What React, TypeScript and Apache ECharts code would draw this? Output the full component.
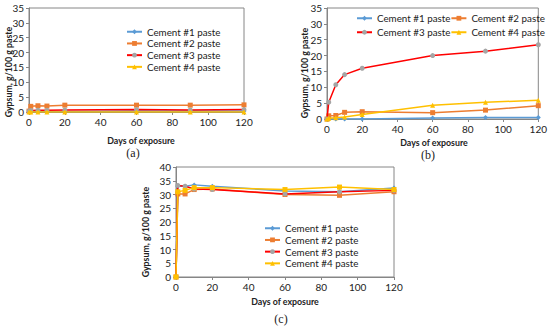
import React, { useEffect, useRef } from "react";
import * as echarts from "echarts";

const days = [0, 1, 5, 10, 20, 60, 90, 120];
const seriesNames = ["Cement #1 paste", "Cement #2 paste", "Cement #3 paste", "Cement #4 paste"];

// Panel (a)
const a1 = [0, 0.2, 0.2, 0.2, 0.2, 0.3, 0.3, 0.3];
const a2 = [0.3, 1.9, 2.1, 2.0, 2.3, 2.3, 2.3, 2.4];
const a3 = [0.3, 0.5, 0.6, 0.6, 0.7, 0.8, 0.7, 0.8];
const a4 = [0, 0, 0, 0, 0, 0, 0, 0];
// Panel (b)
const b1 = [0, 0, 0, 0, 0, 0.3, 0.5, 0.5];
const b2 = [0, 1.0, 1.1, 2.1, 2.3, 2.0, 2.8, 4.2];
const b3 = [0, 5.3, 10.8, 14.0, 16.0, 20.0, 21.4, 23.4];
const b4 = [0, 0.2, 0.4, 0.6, 1.4, 4.3, 5.3, 5.9];
// Panel (c)
const c1 = [0, 33.0, 33.0, 33.5, 33.0, 31.3, 31.0, 32.4];
const c2 = [0, 30.2, 30.2, 31.8, 32.0, 30.0, 29.7, 31.0];
const c3 = [0, 33.3, 33.0, 32.0, 31.8, 30.2, 31.0, 31.5];
const c4 = [0, 31.0, 31.5, 32.5, 32.5, 31.8, 32.7, 31.8];

const panelLabels = ["(a)", "(b)", "(c)"];
const xTitle = "Days of exposure";
const yTitle = "Gypsum, g/100 g paste";

const lineColors = ["#5B9BD5", "#ED7D31", "#FF0000", "#FFC000"];
const markerColors = ["#5B9BD5", "#ED7D31", "#A5A5A5", "#FFC000"];
const FONT = "Lato";

export default function App() {
  const ref = useRef<HTMLDivElement>(null);
  useEffect(() => {
    if (!ref.current) return;
    const chart = echarts.init(ref.current, null, { renderer: "svg" });
    const grids = [
      { left: 29, top: 8, width: 215, height: 104 },
      { left: 327, top: 8, width: 213, height: 111 },
      { left: 176, top: 167, width: 218, height: 110 },
    ];
    const yMax = [35, 35, 40];
    const data = [
      [a1, a2, a3, a4],
      [b1, b2, b3, b4],
      [c1, c2, c3, c4],
    ];
    const symbolsAB = ["diamond", "rect", "circle", "triangle"];
    const symbolsC = ["diamond", "rect", "circle", "rect"];
    const series: any[] = [];
    data.forEach((panel, pi) => {
      panel.forEach((vals, si) => {
        series.push({
          type: "line",
          name: seriesNames[si],
          xAxisIndex: pi,
          yAxisIndex: pi,
          data: days.map((d, i) => [d, vals[i]]),
          symbol: pi === 2 ? symbolsC[si] : symbolsAB[si],
          symbolSize: 5,
          showAllSymbol: true,
          lineStyle: { color: lineColors[si], width: 1.5 },
          itemStyle: { color: markerColors[si] },
          z: 2 + si,
        });
      });
    });
    const axisCommon = {
      axisLine: { show: true, onZero: false, lineStyle: { color: "#868686", width: 1 } },
      axisTick: { show: true, length: 3, lineStyle: { color: "#868686" } },
      splitLine: { show: false },
      axisLabel: { color: "#222", fontFamily: FONT, fontSize: 10 },
    };
    const legendCommon = {
      padding: 0,
      itemWidth: 15,
      itemHeight: 6,
      textStyle: { fontFamily: FONT, fontSize: 9.8, lineHeight: 10.5, color: "#222" },
      selectedMode: false,
    };
    const titleStyle = { fontFamily: FONT, fontSize: 8.8, fontWeight: "bold", fill: "#222" };
    const option: any = {
      animation: false,
      backgroundColor: "#ffffff",
      grid: grids.map((g) => ({ ...g, show: true, borderColor: "#868686", borderWidth: 1, backgroundColor: "transparent" })),
      xAxis: grids.map((_, i) => ({
        type: "value",
        gridIndex: i,
        min: 0,
        max: 120,
        interval: 20,
        ...axisCommon,
        axisLabel: { ...axisCommon.axisLabel, margin: 5 },
      })),
      yAxis: grids.map((_, i) => ({
        type: "value",
        gridIndex: i,
        min: 0,
        max: yMax[i],
        interval: 5,
        ...axisCommon,
        axisLabel: { ...axisCommon.axisLabel, margin: 5 },
      })),
      legend: [
        { ...legendCommon, orient: "vertical", left: 126, top: 26.5, itemGap: 1.2, data: seriesNames },
        { ...legendCommon, orient: "horizontal", left: 356, top: 13, width: 210, itemGap: 0, data: [seriesNames[0], seriesNames[1]] },
        { ...legendCommon, orient: "horizontal", left: 356, top: 27, width: 210, itemGap: 0, data: [seriesNames[2], seriesNames[3]] },
        { ...legendCommon, orient: "vertical", left: 264, top: 223, itemGap: 1.2, data: seriesNames },
      ],
      series,
      graphic: [
        { type: "text", x: 8, y: 72, rotation: Math.PI / 2, style: { ...titleStyle, text: yTitle, align: "center", verticalAlign: "middle" } },
        { type: "text", x: 304, y: 73, rotation: Math.PI / 2, style: { ...titleStyle, text: yTitle, align: "center", verticalAlign: "middle" } },
        { type: "text", x: 145, y: 232, rotation: Math.PI / 2, style: { ...titleStyle, text: yTitle, align: "center", verticalAlign: "middle" } },
        { type: "text", x: 141, y: 140, style: { ...titleStyle, text: xTitle, align: "center", verticalAlign: "middle" } },
        { type: "text", x: 434, y: 142, style: { ...titleStyle, text: xTitle, align: "center", verticalAlign: "middle" } },
        { type: "text", x: 285, y: 301, style: { ...titleStyle, text: xTitle, align: "center", verticalAlign: "middle" } },
        { type: "text", x: 133, y: 153, style: { fontFamily: "Liberation Serif", fontSize: 12, fill: "#222", text: panelLabels[0], align: "center", verticalAlign: "middle" } },
        { type: "text", x: 428, y: 155, style: { fontFamily: "Liberation Serif", fontSize: 12, fill: "#222", text: panelLabels[1], align: "center", verticalAlign: "middle" } },
        { type: "text", x: 281, y: 319, style: { fontFamily: "Liberation Serif", fontSize: 12, fill: "#222", text: panelLabels[2], align: "center", verticalAlign: "middle" } },
      ],
    };
    chart.setOption(option);
    return () => chart.dispose();
  }, []);
  return <div ref={ref} style={{ position: "fixed", left: 0, top: 0, width: 550, height: 327, background: "#fff" }} />;
}
